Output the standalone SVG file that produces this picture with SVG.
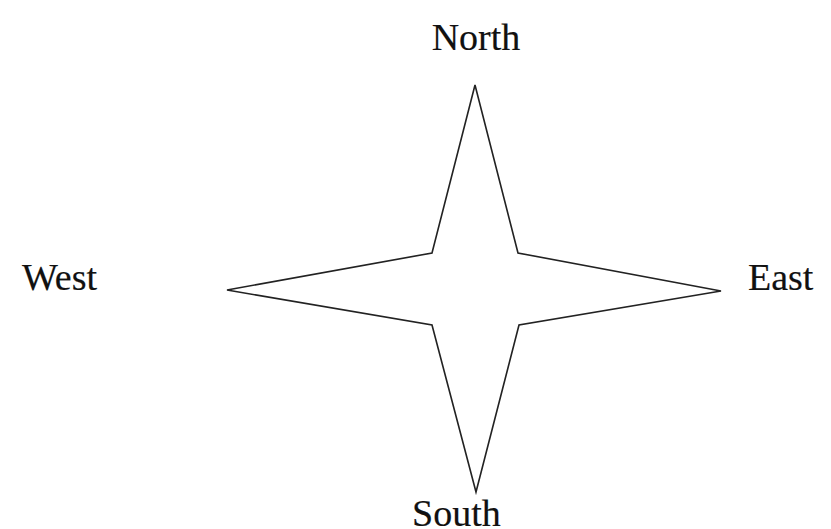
<svg xmlns="http://www.w3.org/2000/svg" width="831" height="529" viewBox="0 0 831 529">
<style>
.lbl{font-family:"Liberation Serif","Times New Roman",serif;font-size:38px;fill:#111;stroke:#111;stroke-width:0.2}
.star{fill:#fff;stroke:#222;stroke-width:1.6;stroke-linejoin:miter}
</style>
<rect width="831" height="529" fill="#fff"/>
<g id="star">
<polygon class="star" points="475,85 518,253 721,291 519,325 476,492 432,325 227,290 432,253"/>
</g>
<g id="north"><text class="lbl" x="476" y="50" text-anchor="middle">North</text></g>
<g id="west"><text class="lbl" x="22" y="290">West</text></g>
<g id="east"><text class="lbl" x="748" y="290">East</text></g>
<g id="south"><text class="lbl" x="412" y="526">South</text></g>
</svg>
